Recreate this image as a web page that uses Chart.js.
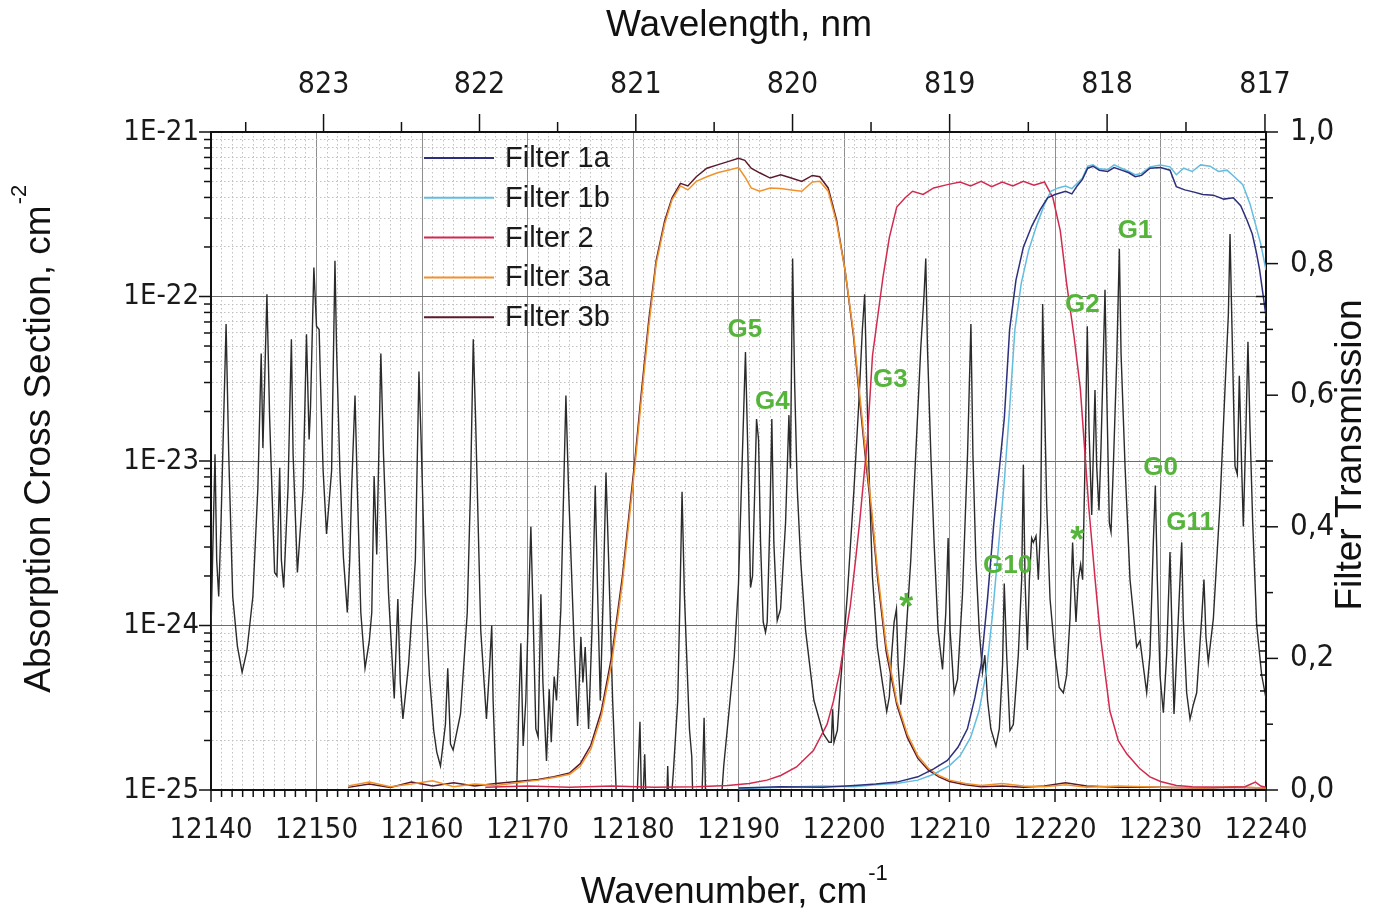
<!DOCTYPE html>
<html>
<head>
<meta charset="UTF-8">
<title>Absorption cross section and filter transmission</title>
<script src="https://cdn.jsdelivr.net/npm/chart.js"></script>
<style>
  html, body { margin: 0; padding: 0; background: #fff; }
  #wrap { width: 1377px; height: 917px; }
</style>
</head>
<body>
<div id="wrap"><canvas id="spec" width="1377" height="917"></canvas></div>
<script>
// absorption cross section, [wavenumber cm-1, sigma cm2]
const spectrum = [
  [12140.0,9.3e-25],[12140.16,2.7e-24],[12140.38,1.1e-23],[12140.54,2.5e-24],[12140.73,1.5e-24],[12140.95,4.2e-24],
  [12141.43,6.8e-23],[12141.68,1.1e-23],[12142.06,1.5e-24],[12142.5,7.5e-25],[12142.95,5.2e-25],[12143.4,7.0e-25],
  [12143.97,1.5e-24],[12144.44,6.8e-24],[12144.76,4.5e-23],[12144.92,1.2e-23],[12145.30,1.03e-22],[12145.56,1.8e-23],
  [12146.03,2.1e-24],[12146.25,2.0e-24],[12146.51,9.1e-24],[12146.67,2.5e-24],[12146.89,1.7e-24],[12147.30,6.8e-24],
  [12147.62,5.5e-23],[12147.78,1.1e-23],[12148.19,2.1e-24],[12148.73,6.8e-24],[12149.05,5.9e-23],[12149.30,1.35e-23],
  [12149.43,2.1e-23],[12149.75,1.5e-22],[12150.0,6.6e-23],[12150.25,6.3e-23],[12150.38,3.0e-23],[12150.63,8.7e-24],
  [12150.95,3.6e-24],[12151.43,8.7e-24],[12151.75,1.65e-22],[12151.9,4.9e-23],[12152.22,8.7e-24],[12152.55,2.6e-24],
  [12152.92,1.2e-24],[12153.15,2.5e-24],[12153.33,6.8e-24],[12153.65,2.5e-23],[12153.87,6.8e-24],[12154.2,1.2e-24],
  [12154.60,5.5e-25],[12155.0,8.0e-25],[12155.24,1.2e-24],[12155.46,8.1e-24],[12155.71,2.7e-24],[12156.10,4.5e-23],
  [12156.35,1.1e-23],[12156.83,1.55e-24],[12157.37,3.6e-25],[12157.71,1.45e-24],[12157.94,4.5e-25],[12158.19,2.7e-25],
  [12158.73,5.8e-25],[12159.37,2.5e-24],[12159.71,3.5e-23],[12159.90,1.45e-23],[12160.32,1.55e-24],[12160.7,5.0e-25],
  [12161.11,2.3e-25],[12161.4,1.7e-25],[12161.75,1.4e-25],[12162.22,2.5e-25],[12162.44,5.5e-25],[12162.70,1.9e-25],
  [12162.95,1.75e-25],[12163.65,2.9e-25],[12164.29,1.2e-24],[12164.60,6.8e-24],[12164.86,5.5e-23],[12165.08,1.8e-23],
  [12165.57,9.3e-25],[12166.11,2.7e-25],[12166.42,5.8e-25],[12166.61,1.0e-24],[12166.74,3.5e-25],[12167.15,6e-26],
  [12168.89,6e-26],[12169.15,2.75e-25],[12169.37,7.8e-25],[12169.59,1.85e-25],[12169.84,3.5e-25],[12170.32,4.0e-24],
  [12170.57,9.3e-25],[12170.79,2.35e-25],[12171.01,2.1e-25],[12171.27,1.55e-24],[12171.46,4.5e-25],[12171.80,1.5e-25],
  [12172.06,4.1e-25],[12172.25,1.95e-25],[12172.53,4.9e-25],[12172.75,3.5e-25],[12173.16,1.25e-24],[12173.64,2.5e-23],
  [12173.89,6.8e-24],[12174.43,7.4e-25],[12174.75,2.45e-25],[12175.06,8.5e-25],[12175.25,4.5e-25],[12175.47,7.4e-25],
  [12175.79,2.35e-25],[12176.11,9.3e-25],[12176.42,7.1e-24],[12176.65,1.55e-24],[12176.90,3.5e-25],[12177.18,1.55e-24],
  [12177.44,8.5e-24],[12177.69,2.5e-24],[12178.07,3.5e-25],[12178.54,6e-26],[12180.28,6e-26],[12180.51,1.45e-25],
  [12180.66,2.6e-25],[12180.85,6e-26],[12181.11,1.65e-25],[12181.30,6e-26],[12183.13,6e-26],[12183.29,1.4e-25],
  [12183.45,6e-26],[12183.83,1.3e-25],[12184.24,3.5e-25],[12184.46,1.55e-24],[12184.65,6.5e-24],[12184.87,1.55e-24],
  [12185.35,2.35e-25],[12185.57,1.6e-25],[12185.73,6e-26],[12186.46,6e-26],[12186.74,2.75e-25],[12186.93,6e-26],
  [12188.2,6e-26],[12188.6,1.4e-25],[12189.1,3.0e-25],[12189.6,6.5e-25],[12190.0,1.8e-24],[12190.35,1.0e-23],
  [12190.66,4.6e-23],[12190.89,1.1e-23],[12191.14,1.7e-24],[12191.33,2.0e-24],[12191.71,1.8e-23],[12191.90,1.35e-23],
  [12192.09,3.2e-24],[12192.34,1.05e-24],[12192.56,9.1e-25],[12192.72,1.05e-24],[12192.97,4.2e-24],[12193.16,1.8e-23],
  [12193.35,3.2e-24],[12193.67,1.07e-24],[12193.99,1.26e-24],[12194.46,4.2e-24],[12194.78,1.9e-23],[12194.92,9.0e-24],
  [12195.13,1.7e-22],[12195.32,3.0e-23],[12195.57,6.8e-24],[12195.89,2.5e-24],[12196.36,9.3e-25],[12197.15,3.5e-25],
  [12198.04,2.2e-25],[12198.58,1.95e-25],[12198.80,1.95e-25],[12198.92,3.1e-25],[12199.05,1.95e-25],[12199.37,2.3e-25],
  [12199.68,4.5e-25],[12200.32,1.55e-24],[12200.95,6.8e-24],[12201.42,2.35e-23],[12201.74,6.3e-23],[12201.96,1.03e-22],
  [12202.15,3.0e-23],[12202.37,8.7e-24],[12202.69,2.0e-24],[12203.16,7.4e-25],[12203.64,4.5e-25],[12204.05,3.0e-25],
  [12204.30,3.7e-25],[12204.49,6.3e-25],[12204.75,1.05e-24],[12204.97,1.26e-24],[12205.13,5.8e-25],[12205.38,3.3e-25],
  [12205.70,5.8e-25],[12206.33,2.5e-24],[12206.80,1.1e-23],[12207.28,4.9e-23],[12207.59,1.03e-22],[12207.75,1.7e-22],
  [12207.91,4.9e-23],[12208.23,1.1e-23],[12208.54,3.2e-24],[12208.92,9.3e-25],[12209.34,5.4e-25],[12209.65,1.2e-24],
  [12209.87,3.4e-24],[12210.06,9.3e-25],[12210.44,3.9e-25],[12210.76,4.7e-25],[12211.23,1.55e-24],[12211.71,1.1e-23],
  [12212.03,6.8e-23],[12212.22,1.1e-23],[12212.50,2.5e-24],[12212.82,9.3e-25],[12213.13,5.2e-25],[12213.35,6.6e-25],
  [12213.61,3.5e-25],[12213.92,2.35e-25],[12214.40,1.85e-25],[12214.72,2.35e-25],[12215.03,5.8e-25],[12215.19,1.8e-24],
  [12215.42,6.6e-25],[12215.73,2.3e-25],[12216.05,2.5e-25],[12216.52,6.6e-25],[12216.84,1.9e-24],[12217.0,9.5e-24],
  [12217.16,1.9e-24],[12217.38,7.1e-25],[12217.57,1.9e-24],[12217.79,3.4e-24],[12217.95,3.2e-24],[12218.20,3.5e-24],
  [12218.42,1.9e-24],[12218.64,4.2e-24],[12218.83,9.0e-23],[12218.99,2.7e-23],[12219.21,5.5e-24],[12219.53,1.45e-24],
  [12220.0,6.6e-25],[12220.4,4.2e-25],[12220.79,3.9e-25],[12221.11,5.0e-25],[12221.42,1.1e-24],[12221.67,3.2e-24],
  [12221.80,1.9e-24],[12221.99,1.05e-24],[12222.21,1.9e-24],[12222.43,2.35e-24],[12222.62,1.9e-24],[12222.84,9.3e-24],
  [12223.06,6.6e-23],[12223.22,1.6e-23],[12223.48,4.7e-24],[12223.79,2.7e-23],[12223.95,9.3e-24],[12224.17,5.0e-24],
  [12224.36,1.2e-23],[12224.74,1.1e-22],[12224.90,2.7e-23],[12225.15,4.2e-24],[12225.31,3.7e-24],[12225.53,9.3e-24],
  [12225.85,4.1e-23],[12226.10,1.95e-22],[12226.26,4.5e-23],[12226.64,9.3e-24],[12227.11,1.9e-24],[12227.74,7.4e-25],
  [12228.06,8.1e-25],[12228.69,3.9e-25],[12229.0,6.6e-25],[12229.32,3.2e-24],[12229.51,7.1e-24],[12229.70,1.9e-24],
  [12229.95,5.0e-25],[12230.27,2.95e-25],[12230.58,6.6e-25],[12230.90,2.8e-24],[12231.06,1.1e-24],[12231.28,2.9e-25],
  [12231.53,6.6e-25],[12231.85,1.9e-24],[12232.01,3.2e-24],[12232.16,1.1e-24],[12232.48,3.9e-25],[12232.80,2.7e-25],
  [12233.11,3.3e-25],[12233.43,3.9e-25],[12233.90,1.1e-24],[12234.12,1.9e-24],[12234.31,8.5e-25],[12234.53,6.0e-25],
  [12235.01,1.1e-24],[12235.64,5.5e-24],[12236.11,2.7e-23],[12236.43,7.7e-23],[12236.59,2.4e-22],[12236.75,7.7e-23],
  [12237.06,9.3e-24],[12237.28,8.3e-24],[12237.47,3.3e-23],[12237.69,9.3e-24],[12237.85,4.0e-24],[12238.10,1.6e-23],
  [12238.29,5.3e-23],[12238.48,1.6e-23],[12238.74,4.2e-24],[12239.12,1.0e-24],[12239.59,5.0e-25],[12240.0,3.6e-25]
];

// filter transmission curves, [wavenumber cm-1, transmission]
const filter1a = [
  [12190,0.003],[12194,0.005],[12198,0.004],[12201,0.007],[12203,0.009],[12205,0.012],[12207,0.02],[12208.5,0.032],
  [12209.8,0.045],[12210.8,0.065],[12211.7,0.093],[12212.4,0.14],[12213,0.19],[12213.6,0.29],[12214.2,0.405],[12214.8,0.5],
  [12215.2,0.566],[12215.7,0.70],[12216.3,0.775],[12217,0.825],[12217.8,0.857],[12218.6,0.882],[12219.3,0.9],[12220,0.905],
  [12221,0.91],[12221.6,0.906],[12222.1,0.918],[12222.6,0.928],[12223.1,0.945],[12223.6,0.948],[12224.2,0.942],[12225,0.94],
  [12225.6,0.946],[12226.3,0.942],[12227,0.938],[12227.6,0.932],[12228.2,0.934],[12229,0.945],[12230,0.946],[12230.9,0.942],
  [12231.5,0.917],[12232.3,0.912],[12233.1,0.909],[12234,0.905],[12235,0.904],[12236,0.898],[12236.9,0.9],[12237.6,0.888],
  [12238.2,0.866],[12238.7,0.845],[12239.1,0.816],[12239.4,0.79],[12239.7,0.755],[12240,0.72]
];
const filter1b = [
  [12190,0.002],[12194,0.004],[12198,0.006],[12201,0.005],[12203,0.008],[12205,0.01],[12207,0.015],[12208.5,0.024],
  [12210,0.037],[12211,0.052],[12212,0.08],[12212.8,0.12],[12213.5,0.18],[12214.1,0.27],[12214.7,0.38],[12215.2,0.47],
  [12215.7,0.58],[12216.2,0.70],[12216.8,0.77],[12217.5,0.82],[12218.3,0.86],[12219,0.89],[12219.6,0.91],[12220.3,0.915],
  [12221,0.918],[12221.6,0.914],[12222.1,0.922],[12222.6,0.93],[12223.1,0.948],[12223.6,0.95],[12224.2,0.944],[12225,0.943],
  [12225.6,0.95],[12226.3,0.945],[12227,0.94],[12227.6,0.935],[12228.2,0.937],[12229,0.947],[12230,0.95],[12230.9,0.947],
  [12231.5,0.935],[12232.2,0.945],[12233,0.94],[12233.8,0.95],[12234.7,0.948],[12235.5,0.94],[12236.3,0.942],[12237,0.932],
  [12237.8,0.92],[12238.5,0.89],[12239,0.86],[12239.5,0.83],[12240,0.79]
];
const filter2 = [
  [12166,0.004],[12170,0.006],[12174,0.004],[12178,0.006],[12182,0.004],[12186,0.005],[12189,0.007],[12191,0.010],
  [12192.7,0.015],[12194,0.022],[12195.5,0.035],[12197.1,0.060],[12198.4,0.100],[12199,0.135],[12199.6,0.180],[12200.1,0.230],
  [12200.6,0.280],[12201.1,0.350],[12201.5,0.410],[12202.2,0.530],[12202.7,0.660],[12203.2,0.720],[12203.7,0.780],[12204.3,0.840],
  [12205,0.886],[12205.8,0.900],[12206.5,0.910],[12207.5,0.905],[12208.5,0.915],[12209.8,0.920],[12211,0.924],[12212,0.918],
  [12213,0.925],[12214,0.917],[12215,0.924],[12216,0.918],[12217,0.925],[12218,0.919],[12219,0.924],[12219.8,0.900],
  [12220.5,0.850],[12221.1,0.770],[12221.8,0.690],[12222.4,0.610],[12222.8,0.520],[12223.2,0.430],[12223.8,0.320],[12224.3,0.235],
  [12225.2,0.120],[12226,0.075],[12226.8,0.055],[12228,0.033],[12229,0.020],[12230,0.013],[12231.5,0.007],[12233,0.005],
  [12236,0.004],[12238,0.005],[12239,0.012],[12239.5,0.006],[12240,0.004]
];
const filter3a = [
  [12153,0.006],[12155,0.012],[12157,0.005],[12159,0.009],[12161,0.014],[12163,0.005],[12165,0.009],[12167,0.007],
  [12169,0.011],[12171,0.015],[12172.5,0.019],[12174,0.024],[12175,0.036],[12176,0.062],[12177,0.112],[12178,0.195],
  [12179,0.315],[12179.6,0.405],[12180.2,0.495],[12180.8,0.595],[12181.5,0.705],[12182.2,0.80],[12183,0.86],[12183.7,0.897],
  [12184.5,0.918],[12185.2,0.912],[12186,0.925],[12187,0.932],[12188,0.938],[12189,0.942],[12190,0.946],[12190.6,0.932],
  [12191.2,0.915],[12192,0.91],[12193,0.915],[12194,0.914],[12195,0.912],[12196,0.91],[12197,0.924],[12197.7,0.925],
  [12198.5,0.91],[12199.3,0.862],[12200.1,0.79],[12200.9,0.695],[12201.5,0.60],[12202,0.52],[12202.6,0.43],[12203.2,0.33],
  [12204,0.22],[12205,0.135],[12206,0.085],[12207,0.052],[12208,0.033],[12209,0.022],[12210,0.015],[12211.5,0.01],
  [12213,0.007],[12215,0.01],[12217,0.006],[12219,0.005],[12221,0.008],[12223,0.004],[12226,0.006],[12230,0.004],
  [12234,0.003],[12237,0.005],[12240,0.003]
];
const filter3b = [
  [12153,0.004],[12155,0.009],[12157,0.004],[12159,0.012],[12161,0.006],[12163,0.011],[12165,0.006],[12167,0.010],
  [12169,0.013],[12171,0.016],[12172.5,0.020],[12174,0.026],[12175,0.040],[12176,0.068],[12177,0.120],[12178,0.205],
  [12179,0.325],[12179.6,0.415],[12180.2,0.505],[12180.8,0.605],[12181.5,0.715],[12182.2,0.805],[12183,0.865],[12183.7,0.900],
  [12184.5,0.922],[12185.2,0.918],[12186,0.932],[12187,0.945],[12188,0.950],[12189,0.955],[12190,0.960],[12190.6,0.957],
  [12191.2,0.945],[12192,0.938],[12193,0.930],[12194,0.935],[12195,0.930],[12196,0.925],[12197,0.934],[12197.7,0.932],
  [12198.5,0.915],[12199.3,0.866],[12200.1,0.790],[12200.9,0.690],[12201.5,0.590],[12202,0.510],[12202.6,0.420],[12203.2,0.320],
  [12204,0.210],[12205,0.130],[12206,0.080],[12207,0.048],[12208,0.030],[12209,0.020],[12210,0.013],[12211.5,0.008],
  [12213,0.005],[12215,0.006],[12217,0.004],[12219,0.006],[12221,0.011],[12223,0.006],[12226,0.004],[12230,0.004],
  [12234,0.003],[12237,0.004],[12240,0.003]
];

const filterNames = ['Filter 1a', 'Filter 1b', 'Filter 2', 'Filter 3a', 'Filter 3b'];
const filterColors = ['#2c2f7c', '#63bde0', '#d22a4e', '#f0922c', '#5c1b2c'];

// top axis: wavelength ticks in nm
const wavelengthTicks = [823.5, 823, 822.5, 822, 821.5, 821, 820.5, 820, 819.5, 819, 818.5, 818, 817.5, 817];

// band labels in data coordinates
const bandText = ['G5', 'G4', 'G3', 'G2', 'G1', 'G0', 'G11', 'G10', '*', '*'];
const bandX = [12190.6, 12193.2, 12204.4, 12222.6, 12227.6, 12230.0, 12232.8, 12215.5, 12205.9, 12222.1];
const bandY = [6.3e-23, 2.3e-23, 3.1e-23, 8.9e-23, 2.5e-22, 9.1e-24, 4.2e-24, 2.3e-24, 1.4e-24, 3.6e-24];

const FONT = '"Liberation Sans", Arial, sans-serif';
const TICKFONT = '"DejaVu Sans Condensed", "Liberation Sans", sans-serif';
const toXY = arr => arr.map(p => ({ x: p[0], y: p[1] }));
const isDecade = v => { const e = Math.log10(v); return Math.abs(e - Math.round(e)) < 1e-6; };

const filterSets = [filter1a, filter1b, filter2, filter3a, filter3b].map((d, i) => ({
  label: filterNames[i],
  data: toXY(d),
  yAxisID: 'y2',
  borderColor: filterColors[i],
  borderWidth: 1.5,
  pointRadius: 0,
  fill: false,
  order: i
}));

const titles = {
  id: 'titles',
  afterDraw(chart) {
    const c = chart.ctx;
    c.save();
    c.fillStyle = '#111';
    c.textBaseline = 'middle';
    c.textAlign = 'center';
    c.font = '37px ' + FONT;
    c.fillText('Wavelength, nm', 739, 26);

    // bottom title with superscript
    let main = 'Wavenumber, cm';
    let w = c.measureText(main).width;
    c.textAlign = 'left';
    c.fillText(main, 724 - w / 2, 893);
    c.font = '22px ' + FONT;
    c.fillText('-1', 724 + w / 2 + 1, 874);

    // left title, rotated
    c.save();
    c.translate(40, 449);
    c.rotate(-Math.PI / 2);
    c.font = '37px ' + FONT;
    main = 'Absorption Cross Section, cm';
    w = c.measureText(main).width;
    c.fillText(main, -w / 2, 0);
    c.font = '22px ' + FONT;
    c.fillText('-2', w / 2 + 1, -20);
    c.restore();

    c.save();
    c.translate(1351, 455);
    c.rotate(-Math.PI / 2);
    c.textAlign = 'center';
    c.font = '37px ' + FONT;
    c.fillText('Filter Transmission', 0, 0);
    c.restore();
    c.restore();
  }
};

const tickMarks = {
  id: 'tickMarks',
  afterDraw(chart) {
    const c = chart.ctx, a = chart.chartArea, s = chart.scales;
    c.save();
    c.strokeStyle = '#111';
    c.lineWidth = 1.5;
    const seg = (x1, y1, x2, y2) => { c.beginPath(); c.moveTo(x1, y1); c.lineTo(x2, y2); c.stroke(); };
    s.x.ticks.forEach(t => {
      const p = s.x.getPixelForValue(t.value);
      seg(p, a.bottom, p, a.bottom + (t.value % 10 === 0 ? 12 : 7));
    });
    s.x2.ticks.forEach(t => {
      const p = s.x2.getPixelForValue(t.value);
      const wl = 1e7 / t.value;
      seg(p, a.top, p, a.top - (Math.abs(wl - Math.round(wl)) < 0.01 ? 18 : 10));
    });
    s.y.ticks.forEach(t => {
      const p = s.y.getPixelForValue(t.value);
      seg(a.left, p, a.left - (isDecade(t.value) ? 12 : 7), p);
      seg(a.right, p, a.right - (isDecade(t.value) ? 10 : 6), p);
    });
    s.y2.ticks.forEach(t => {
      const p = s.y2.getPixelForValue(t.value);
      seg(a.right, p, a.right + (Math.round(t.value * 10) % 2 === 0 ? 12 : 7), p);
    });
    c.restore();
  }
};

const overlay = {
  id: 'overlay',
  afterDatasetsDraw(chart) {
    const c = chart.ctx, sx = chart.scales.x, sy = chart.scales.y;
    c.save();
    // legend
    c.font = '29px ' + FONT;
    c.textBaseline = 'middle';
    c.textAlign = 'left';
    filterNames.forEach((name, i) => {
      const y = 158 + i * 39.8;
      c.strokeStyle = filterColors[i];
      c.lineWidth = 2;
      c.beginPath(); c.moveTo(424, y); c.lineTo(494, y); c.stroke();
      c.fillStyle = '#1a1a1a';
      c.fillText(name, 505, y + 1);
    });
    // band labels
    c.fillStyle = '#55b53a';
    c.textAlign = 'center';
    bandText.forEach((t, i) => {
      c.font = (t === '*' ? 'bold 36px ' : 'bold 26px ') + FONT;
      c.fillText(t, sx.getPixelForValue(bandX[i]), sy.getPixelForValue(bandY[i]) + (t === '*' ? 8 : 0));
    });
    c.restore();
  }
};

const ctx = document.getElementById('spec').getContext('2d');
new Chart(ctx, {
  type: 'line',
  data: {
    datasets: filterSets.concat([{
      label: 'Absorption',
      data: toXY(spectrum),
      yAxisID: 'y',
      borderColor: '#2b2b2b',
      borderWidth: 1.4,
      pointRadius: 0,
      fill: false,
      order: 10
    }])
  },
  options: {
    responsive: false,
    devicePixelRatio: 1,
    animation: false,
    layout: { padding: 0 },
    plugins: { legend: { display: false }, tooltip: { enabled: false } },
    elements: { line: { tension: 0 } },
    scales: {
      x: {
        type: 'linear', position: 'bottom', min: 12140, max: 12240,
        afterBuildTicks: s => { const t = []; for (let v = 12140; v <= 12240; v++) t.push({ value: v }); s.ticks = t; },
        afterFit: s => { s.height = 127; },
        ticks: {
          autoSkip: false, maxRotation: 0, padding: 23, color: '#1a1a1a',
          font: { family: TICKFONT, size: 29 },
          callback: v => (v % 10 === 0 ? String(v) : '')
        },
        grid: {
          drawTicks: false, lineWidth: 1,
          color: c => (c.tick && c.tick.value % 10 === 0 ? '#8e8e8e' : '#c2c2c2')
        },
        border: { color: '#111', width: 2, dash: c => (c.tick && c.tick.value % 10 !== 0 ? [1.5, 2.5] : []) }
      },
      x2: {
        type: 'linear', position: 'top', min: 12140, max: 12240,
        afterBuildTicks: s => {
          s.ticks = wavelengthTicks.map(w => ({ value: 1e7 / w })).filter(t => t.value >= 12140 && t.value <= 12240);
        },
        afterFit: s => { s.height = 132; },
        ticks: {
          autoSkip: false, maxRotation: 0, padding: 29, color: '#1a1a1a',
          font: { family: TICKFONT, size: 30 },
          callback: v => { const w = 1e7 / v; return Math.abs(w - Math.round(w)) < 0.01 ? String(Math.round(w)) : ''; }
        },
        grid: { drawOnChartArea: false, drawTicks: false },
        border: { color: '#111', width: 2 }
      },
      y: {
        type: 'logarithmic', position: 'left', min: 1e-25, max: 1e-21,
        afterBuildTicks: s => {
          const t = [];
          for (let e = -25; e <= -22; e++) for (let m = 1; m <= 9; m++) t.push({ value: Number(m + 'e' + e) });
          t.push({ value: 1e-21 });
          s.ticks = t;
        },
        afterFit: s => { s.width = 211; },
        ticks: {
          autoSkip: false, padding: 12, color: '#1a1a1a',
          font: { family: TICKFONT, size: 29 },
          callback: v => (isDecade(v) ? '1E' + Math.round(Math.log10(v)) : '')
        },
        grid: {
          drawTicks: false, lineWidth: 1,
          color: c => (c.tick && isDecade(c.tick.value) ? '#6c6c6c' : '#c2c2c2')
        },
        border: { color: '#111', width: 2, dash: c => (c.tick && !isDecade(c.tick.value) ? [1.5, 2.5] : []) }
      },
      y2: {
        type: 'linear', position: 'right', min: 0, max: 1,
        afterBuildTicks: s => { const t = []; for (let i = 0; i <= 10; i++) t.push({ value: i / 10 }); s.ticks = t; },
        afterFit: s => { s.width = 111; },
        ticks: {
          autoSkip: false, padding: 24, color: '#1a1a1a',
          font: { family: TICKFONT, size: 31 },
          callback: v => { const k = Math.round(v * 10); return k % 2 === 0 ? (k / 10).toFixed(1).replace('.', ',') : ''; }
        },
        grid: { drawOnChartArea: false, drawTicks: false },
        border: { color: '#111', width: 2 }
      }
    }
  },
  plugins: [titles, tickMarks, overlay]
});
</script>
</body>
</html>
